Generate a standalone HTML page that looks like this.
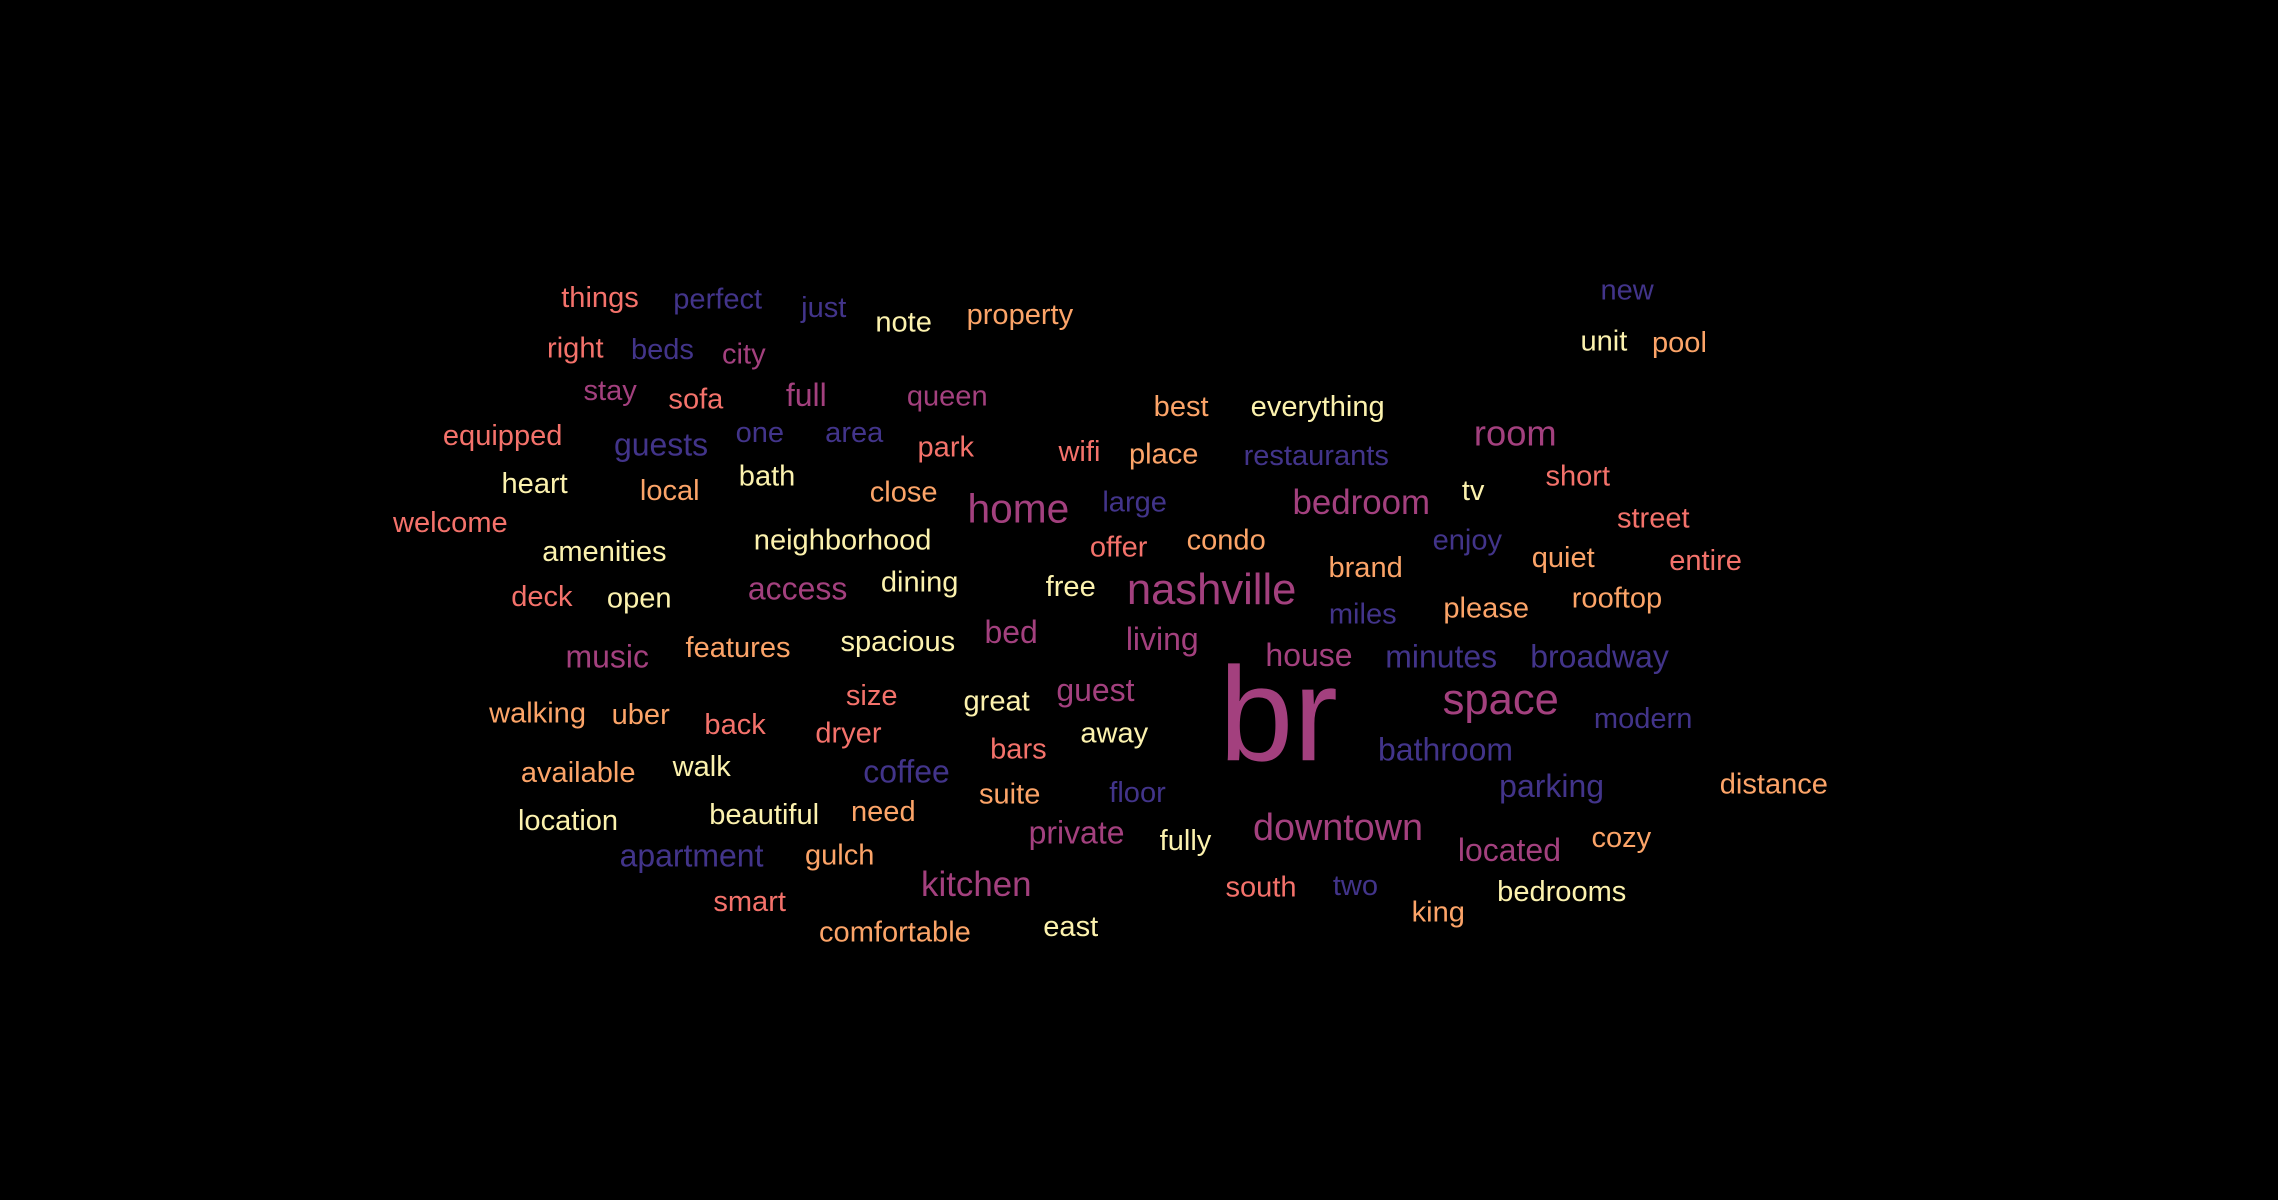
<!DOCTYPE html>
<html><head><meta charset="utf-8"><style>
html,body{margin:0;padding:0;background:#000;width:2278px;height:1200px;overflow:hidden}
svg{display:block}
text{font-family:"Liberation Sans",sans-serif}
</style></head><body>
<svg id="cloud" width="2278" height="1200" viewBox="0 0 1568 826" preserveAspectRatio="none" xmlns="http://www.w3.org/2000/svg">
<rect width="1568" height="826" fill="#000"/>
</svg>
<script>
const words=["things","perfect","just","note","property","new","right","beds","city","unit","pool","stay","sofa","full","queen","best","everything","equipped","guests","one","area","park","wifi","place","restaurants","room","heart","local","bath","close","home","large","bedroom","tv","short","welcome","amenities","neighborhood","offer","condo","enjoy","quiet","street","entire","brand","deck","open","access","dining","free","nashville","miles","please","rooftop","music","features","spacious","bed","living","house","minutes","broadway","walking","uber","back","size","great","guest","br","space","modern","dryer","away","bars","bathroom","available","walk","coffee","suite","floor","parking","distance","location","beautiful","need","private","fully","downtown","located","cozy","apartment","gulch","kitchen","south","two","king","bedrooms","smart","comfortable","east"];
const xs=[413,494,567,622,702,1120,396,456,512,1104,1156,420,479,555,652,813,907,346,455,523,588,651,743,801,906,1043,368,461,528,622,701,781,937,1014,1086,310,416,580,770,844,1010,1076,1138,1174,940,373,440,549,633,737,834,938,1023,1113,418,508,618,696,800,901,992,1101,370,441,506,600,686,754,880,1033,1131,584,767,701,995,398,483,624,695,783,1068,1221,391,526,608,741,816,921,1039,1116,476,578,672,868,933,990,1075,516,616,737];
const ys=[205,206,212,222,217,200,240,241,244,235,236,269,275,272,273,280,280,300,306,298,298,308,311,313,314,298,333,338,328,339,350,346,346,338,328,360,380,372,377,372,372,384,357,386,391,411,412,405,401,404,406,423,419,412,452,446,442,435,440,451,452,452,491,492,499,479,483,475,492,482,495,505,505,516,516,532,528,531,547,546,541,540,565,561,559,573,579,570,585,577,589,589,609,611,610,628,614,621,642,638];
const sizes=[20,20,20,20,20,20,20,20,20,20,20,20,20,22,20,20,20,20,22,20,20,20,20,20,20,25,20,20,20,20,28,20,24,20,20,20,20,20,20,20,20,20,20,20,20,20,20,22,20,20,30,20,20,20,22,20,20,22,22,22,22,22,20,20,20,20,20,22,92,30,20,20,20,20,22,20,20,22,20,20,22,20,20,20,20,22,20,26,22,20,22,20,24,20,20,20,20,20,20,20];
const tones="SPPYOPSPMYOMSMMOYSPPPSSOPMYOYOMPMYSSYYSOPOSSOSYMYYMPOOMOYMMMPPOOSSYMMMPSYSPOYPOPPOYYOMYMMOPOMSPOYSOY";
const palette={P:"#42348a",M:"#a3407e",S:"#f4726b",O:"#fca468",Y:"#fcf2ae"};
const svg=document.getElementById('cloud');
words.forEach((w,i)=>{
  const t=document.createElementNS('http://www.w3.org/2000/svg','text');
  t.setAttribute('x',xs[i]);
  t.setAttribute('y',ys[i]);
  t.setAttribute('font-size',sizes[i]);
  t.setAttribute('fill',palette[tones[i]]);
  t.setAttribute('text-anchor','middle');
  t.setAttribute('dominant-baseline','central');
  
  
  t.textContent=w;
  svg.appendChild(t);
});
</script>
</body></html>
